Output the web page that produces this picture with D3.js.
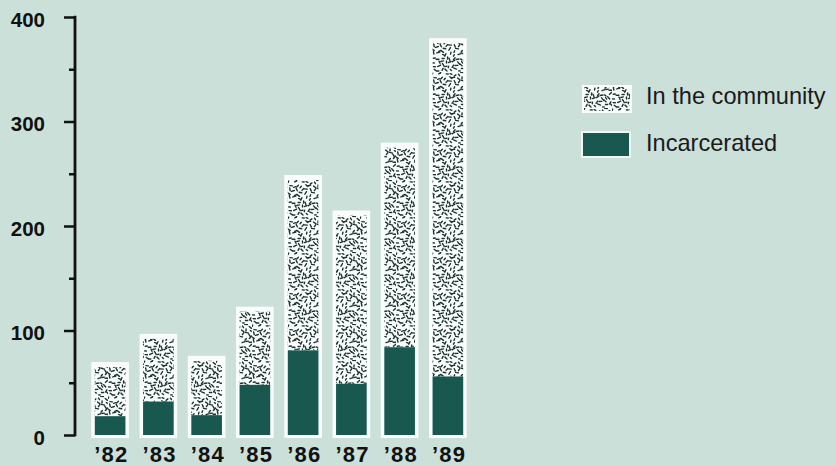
<!DOCTYPE html>
<html>
<head>
<meta charset="utf-8">
<script src="https://cdn.jsdelivr.net/npm/d3@7/dist/d3.min.js"></script>
<style>
  html, body { margin: 0; padding: 0; background: #cae0d9; }
  svg { display: block; }
</style>
</head>
<body>
<svg id="chart" width="836" height="466"></svg>
<script>
// ---- data ----
const years = ["’82", "’83", "’84", "’85", "’86", "’87", "’88", "’89"];
const incarcerated = [18, 32, 19, 48, 81, 49, 84, 56];
const total = [65, 92, 71, 118, 244, 210, 275, 375];
const community = total.map((t, i) => t - incarcerated[i]);
const yTicks = [0, 100, 200, 300, 400];
const yMinorTicks = [50, 150, 250, 350];
const legendLabels = ["In the community", "Incarcerated"];

// ---- style ----
const bg = "#cae0d9";
const dark = "#18584f";
const speck = "#1b3431";
const paper = "#fafcfb";

const svg = d3.select("#chart");
svg.append("rect").attr("width", 836).attr("height", 466).attr("fill", bg);

// speckle pattern (deterministic texture)
const defs = svg.append("defs");
const T = 36;
const pat = defs.append("pattern").attr("id", "speck")
  .attr("patternUnits", "userSpaceOnUse").attr("width", T).attr("height", T);
pat.append("rect").attr("width", T).attr("height", T).attr("fill", paper);
let seed = 11;
function rnd() { seed = (seed * 16807) % 2147483647; return (seed - 1) / 2147483646; }
const n = 9;
for (let gx = 0; gx < n; gx++) {
  for (let gy = 0; gy < n; gy++) {
    const cx = (gx + 0.5 + (rnd() - 0.5) * 0.8) * T / n;
    const cy = (gy + 0.5 + (rnd() - 0.5) * 0.8) * T / n;
    const a = rnd() * Math.PI * 2, l = 1.6 + rnd() * 1.8;
    pat.append("line")
      .attr("x1", cx - Math.cos(a) * l / 2).attr("y1", cy - Math.sin(a) * l / 2)
      .attr("x2", cx + Math.cos(a) * l / 2).attr("y2", cy + Math.sin(a) * l / 2)
      .attr("stroke", speck).attr("stroke-width", 1.4).attr("stroke-linecap", "round");
  }
}

// ---- scales ----
const y = d3.scaleLinear().domain([0, 400]).range([435, 17]);
const x = d3.scaleBand().domain(years).range([86, 472]).paddingInner(0.22).paddingOuter(0.11);
const bw = x.bandwidth();
const inset = 3.5;

// ---- bars ----
const g = svg.append("g");
years.forEach((yr, i) => {
  const x0 = x(yr);
  g.append("rect").attr("x", x0).attr("y", y(total[i]) - 5)
    .attr("width", bw).attr("height", y(0) + 3 - (y(total[i]) - 5))
    .attr("fill", paper);
  g.append("rect").attr("x", x0 + inset).attr("y", y(total[i]))
    .attr("width", bw - 2 * inset).attr("height", y(incarcerated[i]) - y(total[i]))
    .attr("fill", "url(#speck)");
  g.append("rect").attr("x", x0 + inset).attr("y", y(incarcerated[i]))
    .attr("width", bw - 2 * inset).attr("height", y(0) - y(incarcerated[i]))
    .attr("fill", dark);
});

// ---- y axis ----
const axisX = 75;
const ax = svg.append("g").attr("transform", `translate(${axisX},0)`);
ax.call(d3.axisLeft(y).tickValues(yTicks).tickSize(11).tickFormat(d3.format("d")).tickPadding(19));
ax.append("g").call(d3.axisLeft(y).tickValues(yMinorTicks).tickSize(6).tickFormat(""));
ax.selectAll(".domain").remove();
ax.selectAll("line").attr("stroke", "#111").attr("stroke-width", 2.5);
ax.append("line").attr("x1", 0).attr("x2", 0).attr("y1", y(400) - 1.2).attr("y2", y(0) + 1.2)
  .attr("stroke", "#111").attr("stroke-width", 2.8);
ax.selectAll("text").attr("font-family", "Liberation Sans, Arial, sans-serif")
  .attr("font-weight", "bold").attr("font-size", 20.5).attr("fill", "#111").attr("dy", "0.45em");

// ---- x labels ----
const xa = svg.append("g").attr("transform", `translate(0,${y(0) + 3})`);
xa.call(d3.axisBottom(x).tickSize(0).tickPadding(8));
xa.selectAll(".domain").remove();
xa.selectAll("text").attr("font-family", "Liberation Sans, Arial, sans-serif")
  .attr("font-weight", "bold").attr("font-size", 22).attr("fill", "#111")
  .attr("letter-spacing", "1.2px").attr("dx", "0.05em");

// ---- legend ----
const lg = svg.append("g");
lg.append("rect").attr("x", 582).attr("y", 85).attr("width", 50).attr("height", 28).attr("fill", paper);
lg.append("rect").attr("x", 584).attr("y", 87).attr("width", 46).attr("height", 24).attr("fill", "url(#speck)");
lg.append("rect").attr("x", 581).attr("y", 131).attr("width", 50).attr("height", 27).attr("fill", "#eef5f2");
lg.append("rect").attr("x", 583).attr("y", 133).attr("width", 46).attr("height", 23).attr("fill", dark);
lg.selectAll("text").data(legendLabels).join("text")
  .attr("x", 646).attr("y", (d, i) => i === 0 ? 104 : 151)
  .attr("font-family", "Liberation Sans, Arial, sans-serif")
  .attr("font-size", 23.6).attr("fill", "#1a1a1a")
  .text(d => d);
</script>
</body>
</html>
